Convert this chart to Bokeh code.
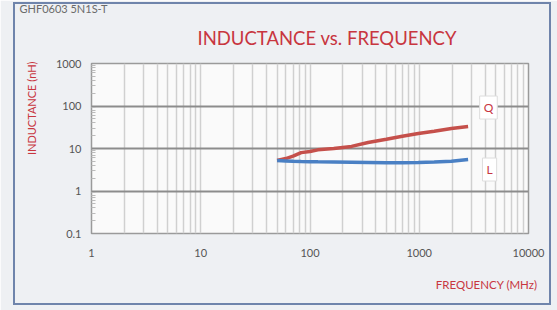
from bokeh.plotting import figure
from bokeh.models import FixedTicker, Label, InlineStyleSheet, Title
from bokeh.embed import file_html
from bokeh.resources import INLINE

# data
freq = [50, 60, 70, 83, 100, 118, 165, 240, 340, 500, 700, 980, 1370, 1970, 2800]
q_values = [5.2, 5.8, 6.6, 8.0, 8.5, 9.3, 10.0, 11.2, 13.8, 16.5, 19.5, 22.5, 25.5, 29.5, 33.0]
l_values = [5.2, 5.1, 5.0, 4.95, 4.9, 4.85, 4.8, 4.75, 4.7, 4.65, 4.65, 4.7, 4.8, 5.0, 5.5]
x_ticks = [1, 10, 100, 1000, 10000]
x_tick_labels = ["1", "10", "100", "1000", "10000"]
y_ticks = [0.1, 1, 10, 100, 1000]
y_tick_labels = ["0.1", "1", "10", "100", "1000"]
x_minor = [m * 10 ** k for k in range(0, 4) for m in range(2, 10)]
y_minor = [m * 10 ** k for k in range(-1, 3) for m in range(2, 10)]

FONT = "Lato"
RED = "#c8363f"

p = figure(width=557, height=310, x_axis_type="log", y_axis_type="log",
           x_range=(1, 10000), y_range=(0.1, 1000),
           output_backend="svg", toolbar_location=None,
           min_border_left=91, min_border_right=29, min_border_top=63, min_border_bottom=77)
p.frame_width = 437
p.frame_height = 170
p.border_fill_color = "#eef0f3"
p.background_fill_color = "#fafafa"
p.outline_line_color = "#9a9a9a"
p.outline_line_width = 1.5

main_title = Title(text="INDUCTANCE vs. FREQUENCY", align="left", offset=106, text_font=FONT,
                   text_font_size="18.5px", text_font_style="normal", text_color=RED, standoff=30)
part_title = Title(text="GHF0603 5N1S-T", align="left", offset=-72, text_font=FONT,
                   text_font_size="11px", text_font_style="normal", text_color="#6a6a6a",
                   standoff=-11)
p.title = None
p.above = [main_title, part_title]

p.xaxis.ticker = FixedTicker(ticks=x_ticks, minor_ticks=x_minor)
p.yaxis.ticker = FixedTicker(ticks=y_ticks, minor_ticks=y_minor)
p.xaxis.major_label_overrides = dict(zip(x_ticks, x_tick_labels))
p.yaxis.major_label_overrides = dict(zip(y_ticks, y_tick_labels))
for ax in (p.xaxis, p.yaxis):
    ax.axis_line_color = None
    ax.major_tick_line_color = None
    ax.major_label_text_font = FONT
    ax.major_label_text_font_size = "11px"
    ax.major_label_text_color = "#555555"
p.xaxis.minor_tick_line_color = None
p.yaxis.minor_tick_in = 4
p.yaxis.minor_tick_out = 0
p.yaxis.minor_tick_line_color = "#bbbbbb"
p.xaxis.major_label_standoff = 9
p.yaxis.major_label_standoff = 4

p.add_layout(Title(text="FREQUENCY (MHz)", align="right", offset=-9, text_font=FONT,
                   text_font_size="11.5px", text_font_style="normal", text_color=RED,
                   standoff=33), "below")
p.add_layout(Title(text="INDUCTANCE (nH)", align="right", offset=-2, text_font=FONT,
                   text_font_size="11px", text_font_style="normal", text_color=RED,
                   standoff=29), "left")

p.xgrid.grid_line_color = "#d0d0d0"
p.xgrid.grid_line_width = 1.5
p.xgrid.minor_grid_line_color = "#d0d0d0"
p.xgrid.minor_grid_line_width = 1.5
p.ygrid.grid_line_color = "#8c8c8c"
p.ygrid.grid_line_width = 2

p.line(freq, q_values, line_color="#c5504b", line_width=3.5)
p.line(freq, l_values, line_color="#4a80c4", line_width=3.5)

p.add_layout(Label(x=4300, y=92, text="Q", text_align="center", text_baseline="middle",
                   text_font=FONT, text_font_size="12px", text_color=RED,
                   background_fill_color="white", border_line_color="#dddddd",
                   padding=4))
p.add_layout(Label(x=4400, y=3.2, text="L", text_align="center", text_baseline="middle",
                   text_font=FONT, text_font_size="12px", text_color=RED,
                   background_fill_color="white", border_line_color="#dddddd",
                   padding=4))

p.stylesheets = [InlineStyleSheet(css="""
:host { position: relative; }
:host::after { content: ''; position: absolute; left: 13px; top: 2px; width: 538px; height: 303px;
  border: 2px solid #6f84ab; box-sizing: border-box; pointer-events: none; }
""")]

open("out.html", "w").write(file_html(p, INLINE))
